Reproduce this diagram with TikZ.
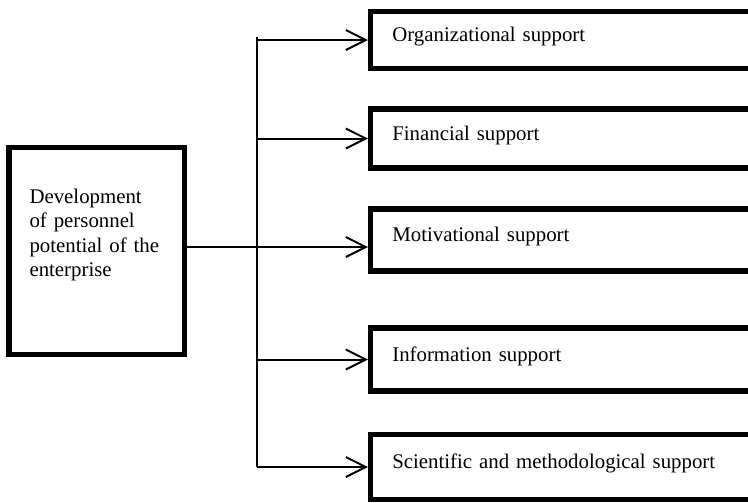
\documentclass[tikz,border=0pt]{standalone}
\usepackage{fontspec}
\setmainfont{Liberation Serif}
\usetikzlibrary{arrows.meta}

\begin{document}
\begin{tikzpicture}[x=0.6pt,y=-0.6pt,
    every node/.style={font=\fontsize{12.5}{14.6}\selectfont},
    box/.style={draw,rectangle,line width=3.2pt,anchor=west,minimum width=252pt,
      inner xsep=13pt,text width=226pt,align=left,text height=9pt,text depth=7pt},
    arr/.style={line width=1.2pt,-{Straight Barb[length=12pt,width=12pt]}}]
        \useasboundingbox (0,0) rectangle (748,502);
        \clip (0,0) rectangle (748,502);
        \draw (96.75,251) node[draw,line width=3.2pt,minimum width=105.3pt,minimum height=124.2pt,
              inner xsep=12.3pt,text width=80.7pt,align=left,text height=9pt,text depth=66pt] (dev)
              {Development\\of personnel\\potential of the\\enterprise};
        \draw (368,40)    node[box,minimum height=34.2pt] (org) {Organizational support};
        \draw (368,138.5) node[box,minimum height=35.4pt] (fin) {Financial support};
        \draw (368,240)   node[box,minimum height=37.2pt] (mot) {Motivational support};
        \draw (368,359.5) node[box,minimum height=37.8pt] (inf) {Information support};
        \draw (368,467)   node[box,minimum height=39pt]   (sci) {Scientific and methodological support};
        \coordinate (trunk) at (257,37);
        \coordinate (out) at ([yshift=2.4pt]dev.east);
        \draw[line width=1.2pt] (trunk) -- (trunk |- sci.west);
        \draw[arr] (trunk |- org.west) -- (org.west);
        \draw[arr] (trunk |- fin.west) -- (fin.west);
        \draw[arr] (out) -- (out -| mot.west);
        \draw[arr] (trunk |- inf.west) -- (inf.west);
        \draw[arr] (trunk |- sci.west) -- (sci.west);
\end{tikzpicture}
\end{document}
